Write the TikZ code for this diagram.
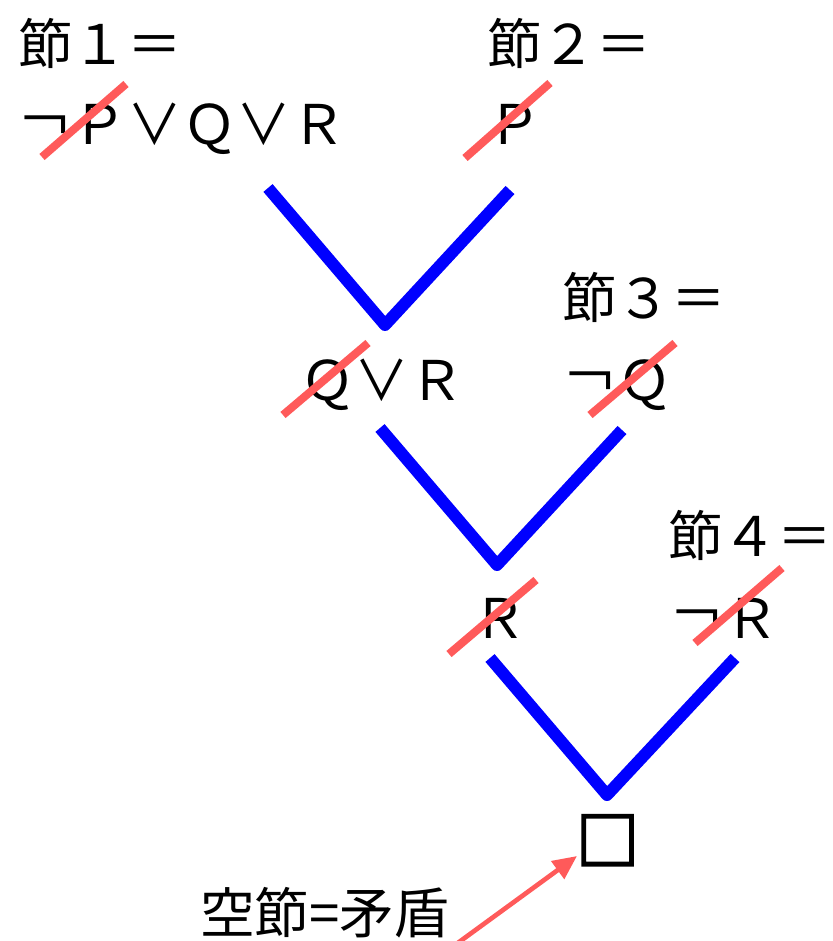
\documentclass[tikz,border=0pt]{standalone}
\usepackage{fontspec}
\setmainfont{Noto Sans CJK JP}
\newfontfamily\boxfont[FakeBold=4]{Noto Sans CJK JP}
\usetikzlibrary{arrows.meta}
\definecolor{strikered}{HTML}{FF5A5A}
\definecolor{vblue}{HTML}{0000FF}
\tikzset{
  lbl/.style={anchor=base west, inner sep=0pt, font=\fontsize{41}{48}\selectfont},
  strike/.style={draw=strikered, line width=6pt},
  vline/.style={draw=vblue, line width=9pt, line join=round},
  ptr/.style={draw=strikered, line width=3.5pt, -{Triangle[length=18pt,width=16pt]}}
}
\begin{document}
\begin{tikzpicture}[x=0.75pt,y=-0.75pt]
\useasboundingbox (0,0) rectangle (832,941);
% clause labels
\node[lbl] (c1) at (18,65) {節１＝};
\node[lbl] (f1) at (18,145) {￢Ｐ∨Ｑ∨Ｒ};
\node[lbl] (c2) at (487,65) {節２＝};
\node[lbl] (f2) at (487,145) {Ｐ};
\node[lbl] (f3) at (300,400) {Ｑ∨Ｒ};
\node[lbl] (c3) at (562,318) {節３＝};
\node[lbl] (f4) at (563,400) {￢Ｑ};
\node[lbl] (f5) at (472,638) {Ｒ};
\node[lbl] (c4) at (668,556) {節４＝};
\node[lbl] (f6) at (670,638) {￢Ｒ};
\node[lbl, font=\boxfont\fontsize{47}{52}\selectfont] (box) at (576,864) {□};
\node[lbl] (note) at (200,933) {空節=矛盾};
\node[lbl] (pg) at (775,980) {17};
% strikes
\draw[strike] (42,157) -- (126,84);
\draw[strike] (465,158) -- (550,83);
\draw[strike] (283,415) -- (368,343);
\draw[strike] (590,415) -- (675,343);
\draw[strike] (449,654) -- (536,580);
\draw[strike] (695,643) -- (782,568);
% resolution Vs
\draw[vline] (268,188) -- (385,325) -- (510,190);
\draw[vline] (380,428) -- (497,565) -- (622,430);
\draw[vline] (490,658) -- (607,795) -- (735,658);
% arrow
\coordinate (tail) at (455,945);
\draw[ptr] (tail) -- (577,856);
\end{tikzpicture}
\end{document}
